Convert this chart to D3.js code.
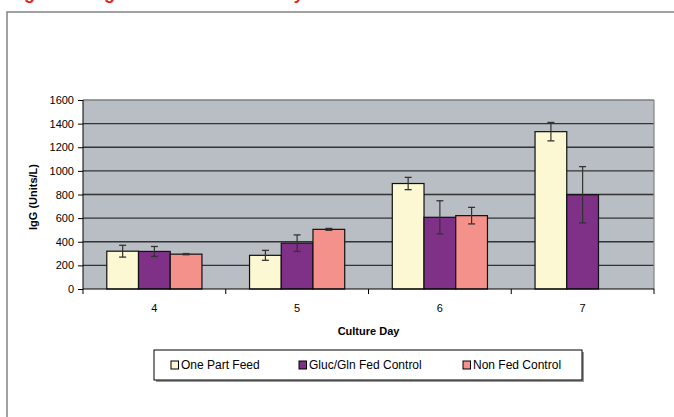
<!DOCTYPE html>
<html><head><meta charset="utf-8">
<script src="https://cdn.jsdelivr.net/npm/d3@7/dist/d3.min.js"></script>
<style>body{margin:0;background:#fff;}svg{display:block;font-family:"Liberation Sans",Arial,sans-serif;}</style>
</head><body>
<script>
const days = ["4","5","6","7"];
const seriesNames = ["One Part Feed","Gluc/Gln Fed Control","Non Fed Control"];
const onePartFeed = [320, 285, 893, 1332];
const glucGlnFed  = [318, 388, 607, 798];
const nonFed      = [295, 505, 621, null];
const errOnePart  = [50, 42, 52, 78];
const errGlucGln  = [42, 70, 140, 238];
const errNonFed   = [5, 8, 70, null];
const yTicks = [0,200,400,600,800,1000,1200,1400,1600];
const colors = ["#fbf8d3","#7f3087","#f4918b"];
const titleText = "Figure 12: IgG Titer vs Culture Day";

const W=674,H=417;
const svg=d3.select("body").append("svg").attr("width",W).attr("height",H);

// partially visible title (cut off at top, as in the reference)
svg.append("text").attr("x",8).attr("y",-1).attr("fill","#e8202a")
  .attr("font-size",18).attr("font-weight","bold").text(titleText);

// outer frame
svg.append("rect").attr("x",7).attr("y",12).attr("width",700).attr("height",440)
  .attr("fill","none").attr("stroke","#8a8a8a").attr("stroke-width",1.6);

const L=83,R=654,T=100,B=289;
const x=d3.scaleBand().domain(days).range([L,R]);
const bw=x.bandwidth()/4.5;
const xs=d3.scaleBand().domain(d3.range(3)).range([0,bw*3]);
const y=d3.scaleLinear().domain([0,1600]).range([B,T]);

svg.append("rect").attr("x",L).attr("y",T).attr("width",R-L).attr("height",B-T).attr("fill","#b9bec4");
// gridlines
svg.append("g").selectAll("line").data(yTicks.filter(d=>d>0)).join("line")
  .attr("x1",L).attr("x2",R).attr("y1",d=>y(d)).attr("y2",d=>y(d))
  .attr("stroke",d=>d===1600?"#7d7d7d":"#333").attr("stroke-width",1.3);
// right border
svg.append("line").attr("x1",R).attr("x2",R).attr("y1",T).attr("y2",B).attr("stroke","#8a8a8a").attr("stroke-width",1.3);

const vals=[onePartFeed,glucGlnFed,nonFed];
const errs=[errOnePart,errGlucGln,errNonFed];
const data=[];
days.forEach((d,i)=>vals.forEach((s,j)=>{ if(s[i]!=null) data.push({day:d,j,v:s[i],e:errs[j][i]}); }));

const g=svg.append("g");
data.forEach(o=>{
  const x0=x(o.day)+(x.bandwidth()-bw*3)/2+xs(o.j);
  g.append("rect").attr("x",x0).attr("y",y(o.v)).attr("width",bw).attr("height",y(0)-y(o.v))
    .attr("fill",colors[o.j]).attr("stroke","#111").attr("stroke-width",1.2);
});
data.forEach(o=>{
  const cx=x(o.day)+(x.bandwidth()-bw*3)/2+xs(o.j)+bw/2;
  const y1=y(o.v+o.e),y2=y(o.v-o.e);
  g.append("line").attr("x1",cx).attr("x2",cx).attr("y1",y1).attr("y2",y2).attr("stroke","#333").attr("stroke-width",1.2);
  [y1,y2].forEach(yy=>g.append("line").attr("x1",cx-3.5).attr("x2",cx+3.5).attr("y1",yy).attr("y2",yy).attr("stroke","#333").attr("stroke-width",1.3));
});

// y axis
const ya=svg.append("g").attr("transform",`translate(${L},0)`)
  .call(d3.axisLeft(y).tickValues(yTicks).tickFormat(d3.format("d")).tickSize(5).tickPadding(4));
ya.select(".domain").attr("stroke","#000").attr("d",`M0,${T}V${B}`);
ya.selectAll(".tick line").attr("stroke","#000");
ya.selectAll("text").attr("font-size",11).attr("fill","#000").attr("font-family","Liberation Sans, Arial, sans-serif");

// x axis
const xa=svg.append("g").attr("transform",`translate(0,${B})`)
  .call(d3.axisBottom(x).tickSize(0).tickPadding(15));
xa.select(".domain").attr("stroke","#000").attr("d",`M${L},0H${R}`);
xa.selectAll("text").attr("font-size",11).attr("fill","#000").attr("font-family","Liberation Sans, Arial, sans-serif");
svg.append("g").selectAll("line").data(days.concat(["end"])).join("line")
  .attr("x1",(d,i)=>L+i*x.bandwidth()).attr("x2",(d,i)=>L+i*x.bandwidth())
  .attr("y1",B).attr("y2",B+5).attr("stroke","#000");

// axis titles
svg.append("text").attr("transform","translate(37,197) rotate(-90)").attr("text-anchor","middle")
  .attr("font-size",11).attr("font-weight","bold").text("IgG (Units/L)");
svg.append("text").attr("x",(L+R)/2).attr("y",335).attr("text-anchor","middle")
  .attr("font-size",11).attr("font-weight","bold").text("Culture Day");

// legend
svg.append("rect").attr("x",156).attr("y",352).attr("width",428).attr("height",30).attr("fill","#999");
svg.append("rect").attr("x",154).attr("y",350).attr("width",428).attr("height",30).attr("fill","#fff").attr("stroke","#000").attr("stroke-width",1);
const lx=[171,299,463];
seriesNames.forEach((n,j)=>{
  svg.append("rect").attr("x",lx[j]).attr("y",361).attr("width",7.5).attr("height",8)
    .attr("fill",colors[j]).attr("stroke","#000").attr("stroke-width",1);
  svg.append("text").attr("x",lx[j]+10).attr("y",369).attr("font-size",12).text(n);
});
</script>
</body></html>
